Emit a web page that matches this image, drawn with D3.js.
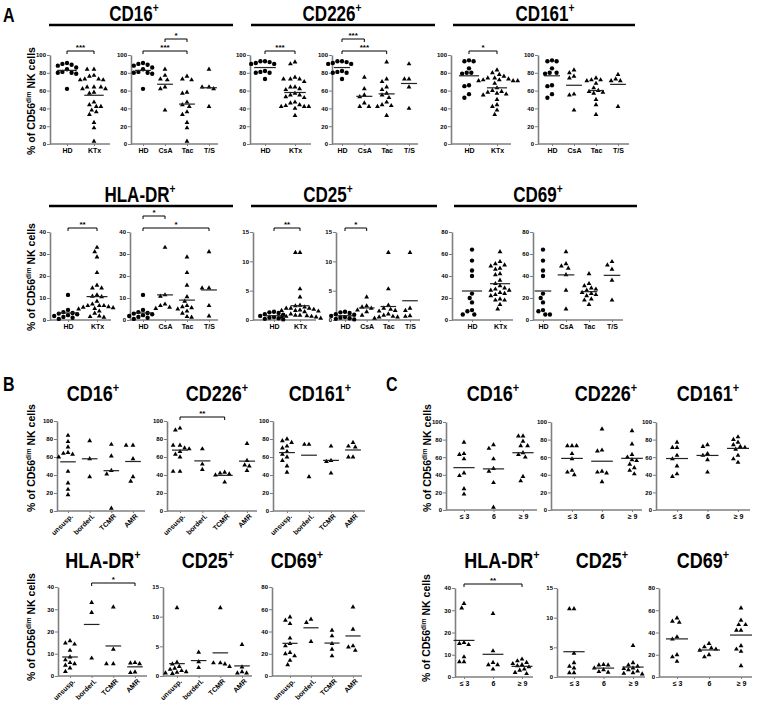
<!DOCTYPE html>
<meta charset="utf-8">
<style>
body { margin: 0; background: #fff; }
text { font-family: "Liberation Sans", Arial, sans-serif; font-weight: bold; fill: #000; }
</style>
<svg width="759" height="712"></svg>
<script src="https://d3js.org/d3.v7.min.js"></script>
<script>
// ---------- categories & ticks ----------
var catsKTx = ["HD", "KTx"],
    catsTx = ["HD", "CsA", "Tac", "T/S"],
    catsRej = ["unsusp.", "borderl.", "TCMR", "AMR"],
    catsTime = ["\u2264 3", "6", "\u2265 9"];

var ticks100 = [0, 20, 40, 60, 80, 100],
    ticks40 = [0, 10, 20, 30, 40],
    ticks15 = [0, 5, 10, 15],
    ticks80 = [0, 20, 40, 60, 80];

// ---------- A: healthy donors ----------
var hdCD16 = [91, 90, 89, 88, 86, 84, 81, 80, 80, 79, 62],
    hdCD226 = [93, 93, 92, 91, 90, 90, 82, 81, 80, 80, 73],
    hdCD161 = [94, 93, 93, 85, 80, 80, 79, 66, 65, 56, 52],
    hdHLADR = [11.4, 4.6, 3.6, 3.2, 2.9, 2.6, 2.2, 1.8, 1.4, 1.0, 0.5],
    hdCD25 = [1.4, 1.3, 1.2, 1.0, 0.9, 0.7, 0.5, 0.4, 0.3, 0.2, 0.1],
    hdCD69 = [64, 54, 45, 40, 24, 20, 16, 9, 8, 5, 5];

// ---------- A: all transplant recipients ----------
var ktxCD16 = [84, 77, 73, 72, 64, 62, 38, 76, 73, 72, 58, 57, 47, 44, 42, 36, 33, 24, 18, 3, 84, 64, 64, 62, 42],
    ktxCD226 = [75, 62, 55, 53, 46, 42, 42, 92, 73, 70, 64, 61, 57, 55, 52, 47, 44, 43, 42, 32, 90, 73, 73, 64, 40],
    ktxCD161 = [83, 80, 76, 74, 56, 55, 38, 74, 72, 72, 71, 68, 63, 60, 59, 58, 57, 50, 44, 33, 78, 73, 71, 71, 42],
    ktxHLADR = [33, 11.4, 10.8, 7.2, 6.5, 5.8, 5.2, 28.6, 21.5, 15.8, 10.5, 8.5, 6.5, 6, 5.5, 5, 4, 3, 1.5, 1.2, 31, 14.5, 14.5, 6.5, 1.8],
    ktxCD25 = [3.9, 2.4, 2.2, 2.0, 1.7, 1.4, 0.8, 11.5, 5.3, 2.5, 2.0, 1.8, 1.6, 1.5, 1.0, 0.8, 0.6, 0.5, 0.5, 0.3, 11.5, 2.0, 1.6, 0.7, 0.6],
    ktxCD69 = [62, 51, 49, 47, 41, 27, 10, 42, 33, 31, 29, 28, 27, 25, 24, 23, 22, 19, 18, 14, 53, 50, 46, 36, 18];

// ---------- A: by immunosuppression ----------
var csaCD16 = [84, 77, 73, 72, 64, 62, 38],
    tacCD16 = [76, 73, 72, 58, 57, 47, 44, 42, 36, 33, 24, 18, 3],
    tsCD16 = [84, 64, 64, 62, 42];
var csaCD226 = [75, 62, 55, 53, 46, 42, 42],
    tacCD226 = [92, 73, 70, 64, 61, 57, 55, 52, 47, 44, 43, 42, 32],
    tsCD226 = [90, 73, 73, 64, 40];
var csaCD161 = [83, 80, 76, 74, 56, 55, 38],
    tacCD161 = [74, 72, 72, 71, 68, 63, 60, 59, 58, 57, 50, 44, 33],
    tsCD161 = [78, 73, 71, 71, 42];
var csaHLADR = [33, 11.4, 10.8, 7.2, 6.5, 5.8, 5.2],
    tacHLADR = [28.6, 21.5, 15.8, 10.5, 8.5, 6.5, 6, 5.5, 5, 4, 3, 1.5, 1.2],
    tsHLADR = [31, 14.5, 14.5, 6.5, 1.8];
var csaCD25 = [3.9, 2.4, 2.2, 2.0, 1.7, 1.4, 0.8],
    tacCD25 = [11.5, 5.3, 2.5, 2.0, 1.8, 1.6, 1.5, 1.0, 0.8, 0.6, 0.5, 0.5, 0.3],
    tsCD25 = [11.5, 2.0, 1.6, 0.7, 0.6];
var csaCD69 = [62, 51, 49, 47, 41, 27, 10],
    tacCD69 = [42, 33, 31, 29, 28, 27, 25, 24, 23, 22, 19, 18, 14],
    tsCD69 = [53, 50, 46, 36, 18];

// ---------- B: by biopsy result (unsusp., borderl., TCMR, AMR) ----------
var rejCD16 = [[84, 77, 71, 65, 64, 63, 60, 44, 31, 24, 18], [78, 58, 38], [74, 61, 45, 41, 3], [73, 73, 58, 38, 33]],
    rejCD226 = [[92, 90, 73, 73, 70, 69, 66, 63, 60, 44, 44], [69, 52, 46], [43, 42, 41, 40, 32], [75, 56, 51, 50, 45]],
    rejCD161 = [[80, 78, 76, 72, 70, 66, 63, 60, 56, 50, 43], [74, 74, 38], [72, 56, 55, 42], [76, 72, 71, 60, 60]],
    rejHLADR = [[15.8, 14.8, 14.3, 11.5, 8.5, 7.2, 6, 5.5, 4.8, 3.6, 2], [33, 28.5, 8], [31, 12, 5.5, 5.5], [6, 5.8, 5.5, 1.8, 1.5]],
    rejCD25 = [[11.5, 2.3, 2, 1.6, 1.3, 1.1, 0.9, 0.7, 0.6, 0.5, 0.4], [4, 2.4, 1.4], [11.5, 2.2, 2.2, 2.0, 1.6], [5.3, 1.5, 0.7, 0.5, 0.5]],
    rejCD69 = [[53, 50, 47, 34, 29, 27, 21, 20, 18, 14, 10], [51, 48, 31], [41, 36, 29, 24, 18], [62, 42, 27, 26, 23]];

// ---------- C: by time after transplantation ----------
var timeCD16 = [[77, 64, 63, 58, 42, 39, 24, 18], [74, 70, 58, 47, 44, 31, 3], [84, 84, 78, 73, 73, 65, 63, 60, 38, 33]],
    timeCD226 = [[73, 73, 73, 64, 58, 45, 43, 40], [92, 68, 67, 44, 43, 42, 32], [90, 75, 63, 60, 57, 56, 52, 48, 45, 41]],
    timeCD161 = [[77, 71, 71, 62, 58, 50, 41, 38], [74, 72, 64, 62, 57, 43], [83, 80, 77, 74, 72, 71, 69, 62, 58, 54]],
    timeHLADR = [[33, 31, 15.5, 15, 14.5, 9, 6.8, 6.8], [28.5, 11.7, 6.5, 5.5, 5.5, 3.5], [8, 7.2, 6.5, 6, 5.5, 5, 4.5, 3.5, 3, 2, 1.5]],
    timeCD25 = [[11.5, 11.5, 4, 2.4, 1.8, 1.5, 0.7, 0.7], [2.1, 2, 2, 1.5, 1.2, 0.9, 0.8], [5.3, 2.4, 2, 1.8, 1.5, 1.4, 1.2, 1, 0.7, 0.6, 0.5]],
    timeCD69 = [[53, 50, 49, 36, 34, 20, 18, 14], [30, 27, 26, 25, 24, 20, 18], [62, 51, 47, 47, 42, 42, 28, 25, 23, 10]];

// significance brackets: [from, to, stars, level]
var sigCD16KTx = [["HD", "KTx", "***", 0]],
    sigCD16Tx = [["HD", "Tac", "***", 0], ["CsA", "Tac", "*", 1]],
    sigCD226KTx = [["HD", "KTx", "***", 0]],
    sigCD226Tx = [["HD", "Tac", "***", 0], ["HD", "CsA", "***", 1]],
    sigCD161KTx = [["HD", "KTx", "*", 0]],
    sigHLADRKTx = [["HD", "KTx", "**", 0]],
    sigHLADRTx = [["HD", "T/S", "*", 0], ["HD", "CsA", "*", 1]],
    sigCD25KTx = [["HD", "KTx", "**", 0]],
    sigCD25Tx = [["HD", "CsA", "*", 0]],
    sigRejCD226 = [["unsusp.", "TCMR", "**", 0]],
    sigRejHLADR = [["borderl.", "AMR", "*", 0]],
    sigTimeHLADR = [["\u2264 3", "\u2265 9", "**", 0]];

var svg = d3.select("svg");
var axisGrey = "#7f7f7f";
var fontFam = "'Liberation Sans', Arial, sans-serif";

function swarm(vals, cx, y, d) {
  var placed = [];
  vals.slice().sort(function(a, b) { return b - a; }).forEach(function(v) {
    var py = y(v);
    for (var k = 0; k < 40; k++) {
      var off = (k % 2 ? -1 : 1) * Math.ceil(k / 2) * d * 0.5;
      var ok = placed.every(function(p) {
        var dx = p.x - (cx + off), dy = p.y - py;
        return dx * dx + dy * dy >= d * d;
      });
      if (ok) { placed.push({x: cx + off, y: py, v: v}); break; }
    }
  });
  return placed;
}

function plot(p) {
  var g = svg.append("g");
  var y = d3.scaleLinear().domain([0, p.max]).range([p.yBot, p.yTop]);
  var x = d3.scalePoint().domain(p.cats).range([p.c0, p.c1]);
  var step = (p.c1 - p.c0) / Math.max(1, p.cats.length - 1);

  // y axis
  var ya = g.append("g").attr("transform", "translate(" + p.ax + ",0)").attr("color", "#000")
    .call(d3.axisLeft(y).tickValues(p.ticks).tickSize(3).tickSizeOuter(0).tickPadding(1));
  ya.select(".domain").attr("stroke", axisGrey).attr("stroke-width", 1.6);
  ya.selectAll(".tick line").attr("stroke", axisGrey).attr("stroke-width", 1);
  ya.selectAll(".tick text").attr("font-size", 6).attr("font-family", fontFam);

  // x axis
  g.append("line").attr("x1", p.ax).attr("x2", p.end).attr("y1", p.yBot).attr("y2", p.yBot)
    .attr("stroke", axisGrey).attr("stroke-width", 1.6);
  var xa = g.append("g").attr("transform", "translate(0," + p.yBot + ")").attr("color", "#000")
    .call(d3.axisBottom(x).tickSize(2).tickPadding(2));
  xa.select(".domain").remove();
  xa.selectAll(".tick line").attr("stroke", axisGrey);
  xa.selectAll(".tick text").attr("font-size", 7).attr("font-family", fontFam);
  if (p.rotate) {
    xa.selectAll(".tick text").attr("text-anchor", "end")
      .attr("transform", "rotate(-45)").attr("dx", "-0.1em").attr("dy", "0.5em");
  }

  // points + means
  var lineW = Math.min(step * 0.72, 22);
  p.data.forEach(function(vals, i) {
    var cx = x(p.cats[i]);
    var pts = swarm(vals, cx, y, 4.6);
    var sym = p.cats[i] === "HD" ? d3.symbol(d3.symbolCircle, 15) : d3.symbol(d3.symbolTriangle, 10);
    g.selectAll(null).data(pts).enter().append("path")
      .attr("d", sym)
      .attr("transform", function(d) { return "translate(" + d.x + "," + d.y + ")"; })
      .attr("fill", "#000");
    var m = d3.mean(vals);
    g.append("line").attr("x1", cx - lineW / 2).attr("x2", cx + lineW / 2)
      .attr("y1", y(m)).attr("y2", y(m)).attr("stroke", "#222").attr("stroke-width", 1.2);
  });

  // significance brackets
  (p.sig || []).forEach(function(s) {
    var by = p.yTop - 4 - s[3] * 12;
    var x1 = x(s[0]), x2 = x(s[1]);
    g.append("path").attr("d", "M" + x1 + "," + (by + 3) + "V" + by + "H" + x2 + "V" + (by + 3))
      .attr("fill", "none").attr("stroke", "#000").attr("stroke-width", 1);
    g.append("text").attr("x", (x1 + x2) / 2).attr("y", by - 1.5).attr("text-anchor", "middle")
      .attr("font-size", 8).text(s[2]);
  });
}

function title(x, y, name, size, stretch) {
  var t = svg.append("text").attr("text-anchor", "middle")
    .attr("transform", "translate(" + x + "," + y + ") scale(1," + stretch + ")")
    .attr("font-size", size);
  t.append("tspan").text(name);
  t.append("tspan").attr("font-size", size * 0.6).attr("dy", -size * 0.42).text("+");
}

function bar(x1, x2, y) {
  svg.append("line").attr("x1", x1).attr("x2", x2).attr("y1", y).attr("y2", y)
    .attr("stroke", "#000").attr("stroke-width", 2.6);
}

function yLabel(x, y) {
  var t = svg.append("text").attr("text-anchor", "middle").attr("font-size", 10.5)
    .attr("transform", "translate(" + x + "," + y + ") rotate(-90)");
  t.append("tspan").text("% of CD56");
  t.append("tspan").attr("font-size", 6.5).attr("dy", -4).text("dim");
  t.append("tspan").attr("dy", 4).text(" NK cells");
}

function letter(x, y, s) {
  svg.append("text").attr("transform", "translate(" + x + "," + y + ") scale(1,1.25)")
    .attr("font-size", 16).text(s);
}

// ---------- panel A ----------
letter(3, 22, "A");
title(134, 21, "CD16", 17, 1.25);  bar(49, 233, 25);
title(332, 21, "CD226", 17, 1.25); bar(251, 435, 25);
title(545, 21, "CD161", 17, 1.25); bar(453, 635, 25);
yLabel(35, 101);

var r1 = {yTop: 55, yBot: 144, max: 100, ticks: ticks100};
plot(Object.assign({ax: 50, c0: 67, c1: 94, end: 110, cats: catsKTx, data: [hdCD16, ktxCD16], sig: sigCD16KTx}, r1));
plot(Object.assign({ax: 131, c0: 143, c1: 209, end: 218, cats: catsTx, data: [hdCD16, csaCD16, tacCD16, tsCD16], sig: sigCD16Tx}, r1));
plot(Object.assign({ax: 250, c0: 265, c1: 295, end: 311, cats: catsKTx, data: [hdCD226, ktxCD226], sig: sigCD226KTx}, r1));
plot(Object.assign({ax: 332, c0: 342, c1: 409, end: 418, cats: catsTx, data: [hdCD226, csaCD226, tacCD226, tsCD226], sig: sigCD226Tx}, r1));
plot(Object.assign({ax: 451, c0: 469, c1: 497, end: 511, cats: catsKTx, data: [hdCD161, ktxCD161], sig: sigCD161KTx}, r1));
plot(Object.assign({ax: 538, c0: 552, c1: 618, end: 629, cats: catsTx, data: [hdCD161, csaCD161, tacCD161, tsCD161]}, r1));

title(140, 202, "HLA-DR", 17, 1.25); bar(49, 233, 206);
title(328, 202, "CD25", 17, 1.25);   bar(251, 437, 206);
title(538, 202, "CD69", 17, 1.25);   bar(454, 637, 206);
yLabel(35, 277);

var r2 = {yTop: 232, yBot: 320};
plot(Object.assign({ax: 50, c0: 68, c1: 97, end: 111, cats: catsKTx, data: [hdHLADR, ktxHLADR], max: 40, ticks: ticks40, sig: sigHLADRKTx}, r2));
plot(Object.assign({ax: 130, c0: 143, c1: 209, end: 218, cats: catsTx, data: [hdHLADR, csaHLADR, tacHLADR, tsHLADR], max: 40, ticks: ticks40, sig: sigHLADRTx}, r2));
plot(Object.assign({ax: 253, c0: 274, c1: 300, end: 316, cats: catsKTx, data: [hdCD25, ktxCD25], max: 15, ticks: ticks15, sig: sigCD25KTx}, r2));
plot(Object.assign({ax: 336, c0: 345, c1: 410, end: 420, cats: catsTx, data: [hdCD25, csaCD25, tacCD25, tsCD25], max: 15, ticks: ticks15, sig: sigCD25Tx}, r2));
plot(Object.assign({ax: 452, c0: 472, c1: 500, end: 513, cats: catsKTx, data: [hdCD69, ktxCD69], max: 80, ticks: ticks80}, r2));
plot(Object.assign({ax: 533, c0: 543, c1: 612, end: 623, cats: catsTx, data: [hdCD69, csaCD69, tacCD69, tsCD69], max: 80, ticks: ticks80}, r2));

// ---------- panel B ----------
letter(3, 391, "B");
title(93, 401, "CD16", 18, 1.2);
title(217, 401, "CD226", 18, 1.2);
title(320, 401, "CD161", 18, 1.2);
yLabel(35, 458);
var b1 = {yTop: 421, yBot: 511, max: 100, ticks: ticks100, cats: catsRej, rotate: true};
plot(Object.assign({ax: 57, c0: 68, c1: 133, end: 145, data: rejCD16}, b1));
plot(Object.assign({ax: 167, c0: 180, c1: 247, end: 257, data: rejCD226, sig: sigRejCD226}, b1));
plot(Object.assign({ax: 273, c0: 287, c1: 353, end: 365, data: rejCD161}, b1));

title(103, 568, "HLA-DR", 18, 1.2);
title(208, 568, "CD25", 18, 1.2);
title(297, 568, "CD69", 18, 1.2);
yLabel(35, 627);
var b2 = {yTop: 587, yBot: 676, cats: catsRej, rotate: true};
plot(Object.assign({ax: 58, c0: 70, c1: 135, end: 147, data: rejHLADR, max: 40, ticks: ticks40, sig: sigRejHLADR}, b2));
plot(Object.assign({ax: 163, c0: 177, c1: 242, end: 252, data: rejCD25, max: 15, ticks: ticks15}, b2));
plot(Object.assign({ax: 272, c0: 290, c1: 353, end: 362, data: rejCD69, max: 80, ticks: ticks80}, b2));

// ---------- panel C ----------
letter(386, 391, "C");
title(493, 401, "CD16", 18, 1.2);
title(606, 401, "CD226", 18, 1.2);
title(708, 401, "CD161", 18, 1.2);
yLabel(431, 458);
var c1 = {yTop: 422, yBot: 510, max: 100, ticks: ticks100, cats: catsTime};
plot(Object.assign({ax: 446, c0: 464, c1: 523, end: 537, data: timeCD16}, c1));
plot(Object.assign({ax: 551, c0: 572, c1: 632, end: 642, data: timeCD226}, c1));
plot(Object.assign({ax: 656, c0: 677, c1: 738, end: 750, data: timeCD161}, c1));

title(502, 568, "HLA-DR", 18, 1.2);
title(602, 568, "CD25", 18, 1.2);
title(703, 568, "CD69", 18, 1.2);
yLabel(430, 628);
var c2 = {yTop: 588, yBot: 677, cats: catsTime};
plot(Object.assign({ax: 455, c0: 464, c1: 522, end: 533, data: timeHLADR, max: 40, ticks: ticks40, sig: sigTimeHLADR}, c2));
plot(Object.assign({ax: 557, c0: 574, c1: 633, end: 645, data: timeCD25, max: 15, ticks: ticks15}, c2));
plot(Object.assign({ax: 659, c0: 677, c1: 741, end: 752, data: timeCD69, max: 80, ticks: ticks80}, c2));
</script>
